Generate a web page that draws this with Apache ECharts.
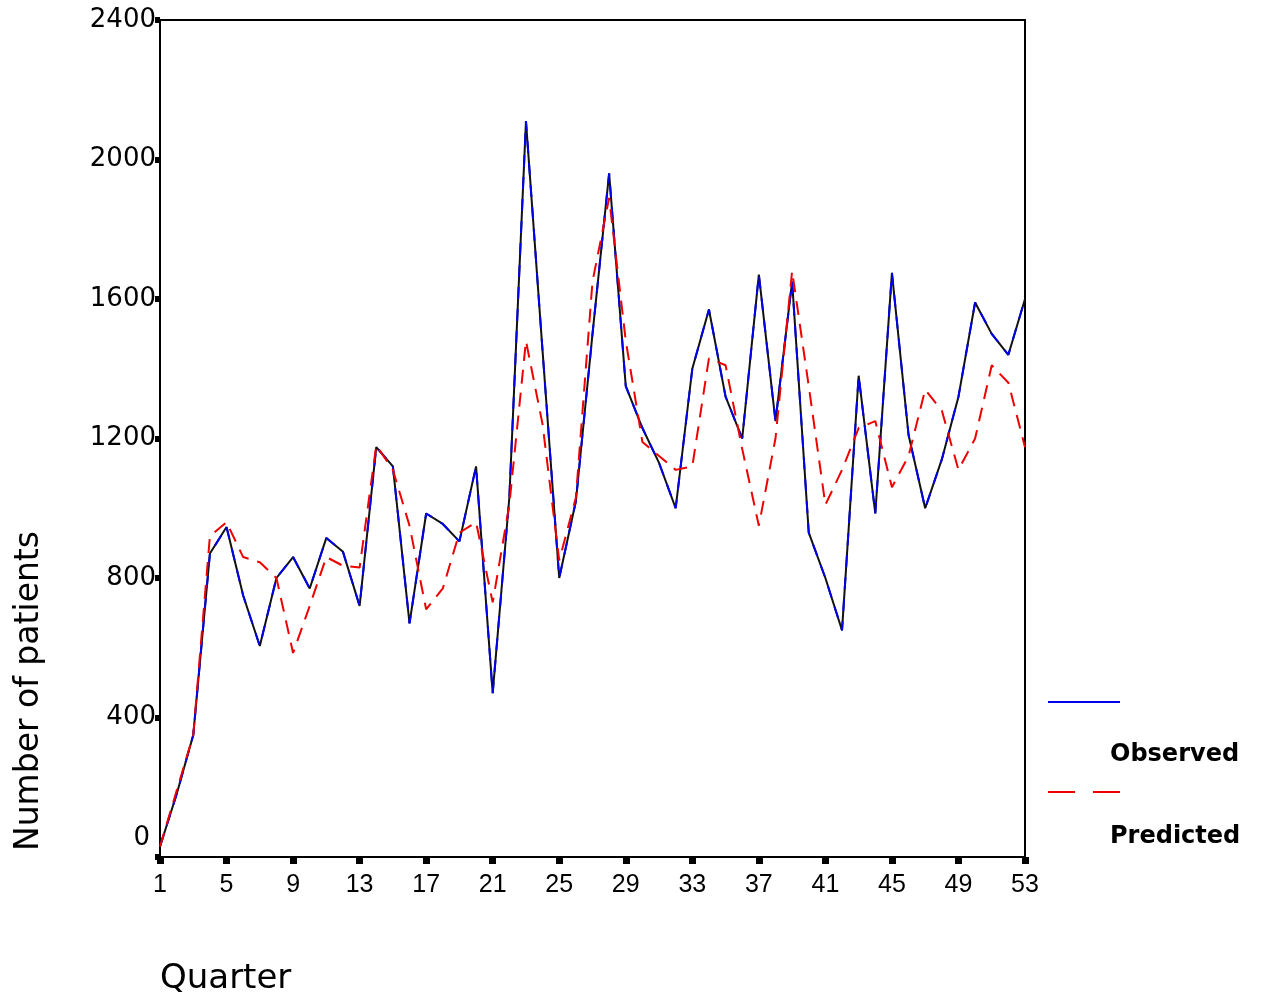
<!DOCTYPE html>
<html>
<head>
<meta charset="utf-8">
<script src="https://cdn.jsdelivr.net/npm/echarts@6/dist/echarts.min.js"></script>
<style>
html,body{margin:0;padding:0;background:#fff;}
#chart{width:1262px;height:1000px;}
</style>
</head>
<body>
<div id="chart"></div>
<script>
var quarters = ['1','2','3','4','5','6','7','8','9','10','11','12','13','14','15','16','17','18','19','20','21','22','23','24','25','26','27','28','29','30','31','32','33','34','35','36','37','38','39','40','41','42','43','44','45','46','47','48','49','50','51','52','53'];
var observed = [30,180,350,870,946,750,605,800,860,770,915,875,720,1175,1120,670,985,955,905,1120,470,1030,2110,1450,800,1020,1500,1960,1350,1230,1130,1000,1400,1570,1320,1200,1670,1250,1650,930,800,650,1380,985,1675,1210,1000,1140,1320,1590,1500,1440,1600];
var predicted = [30,190,350,920,960,860,845,800,585,720,860,835,830,1180,1110,950,710,770,930,960,730,1010,1480,1240,850,1030,1650,1890,1480,1190,1150,1110,1120,1430,1410,1170,950,1200,1680,1350,1010,1110,1230,1250,1060,1150,1340,1280,1110,1200,1410,1360,1175];
var yTicks = [0,400,800,1200,1600,2000,2400];
var seriesNames = ['Observed','Predicted'];
var axisTitles = {x:'Quarter', y:'Number of patients'};

var chart = echarts.init(document.getElementById('chart'));
chart.setOption({
  animation:false,
  backgroundColor:'#fff',
  grid:{left:160,right:237,top:20,bottom:143,show:true,borderColor:'#000',borderWidth:2,containLabel:false},
  xAxis:{
    type:'category',data:quarters,boundaryGap:false,
    axisLine:{lineStyle:{color:'#000',width:2}},
    axisTick:{interval:3,length:7,lineStyle:{color:'#000',width:7}},
    axisLabel:{interval:3,color:'#000',fontSize:25,fontFamily:'Liberation Sans Narrow, Arial Narrow, Liberation Sans, sans-serif',margin:16},
    splitLine:{show:false}
  },
  yAxis:{
    type:'value',min:yTicks[0],max:yTicks[yTicks.length-1],interval:400,
    axisLine:{show:true,lineStyle:{color:'#000',width:2}},
    axisTick:{show:true,length:5,inside:false,lineStyle:{color:'#000',width:6}},
    axisLabel:{color:'#000',fontSize:26,fontFamily:'DejaVu Sans, sans-serif',margin:4,
      formatter:function(v){ return v===0 ? '{z|0}' : String(v); },
      rich:{z:{fontSize:26,fontFamily:'DejaVu Sans, sans-serif',color:'#000',padding:[0,6,38,0]}}},
    splitLine:{show:false}
  },
  series:[
    {name:seriesNames[0]+' base',type:'line',data:observed,symbol:'none',silent:true,
     lineStyle:{color:'#111',width:2},z:2},
    {name:seriesNames[0],type:'line',data:observed,symbol:'none',
     lineStyle:{color:'#0000ee',width:2,type:[12,10]},z:3},
    {name:seriesNames[1],type:'line',data:predicted,symbol:'none',
     lineStyle:{color:'#ee0000',width:2,type:[14,9]},z:4}
  ],
  graphic:[
    {type:'line',shape:{x1:1048,y1:702,x2:1120,y2:702},style:{stroke:'#0000ee',lineWidth:2}},
    {type:'text',left:1110,top:743,style:{text:seriesNames[0],fill:'#000',font:'bold 24px DejaVu Sans, sans-serif'}},
    {type:'line',shape:{x1:1048,y1:792,x2:1120,y2:792},style:{stroke:'#ee0000',lineWidth:2,lineDash:[27,18]}},
    {type:'text',left:1110,top:825,style:{text:seriesNames[1],fill:'#000',font:'bold 24px DejaVu Sans, sans-serif'}},
    {type:'text',x:29,y:691,rotation:Math.PI/2,style:{text:axisTitles.y,fill:'#000',font:'33px DejaVu Sans, sans-serif',align:'center',verticalAlign:'middle'}},
    {type:'text',left:160,top:962,style:{text:axisTitles.x,fill:'#000',font:'34px DejaVu Sans, sans-serif'}}
  ]
});
</script>
</body>
</html>
